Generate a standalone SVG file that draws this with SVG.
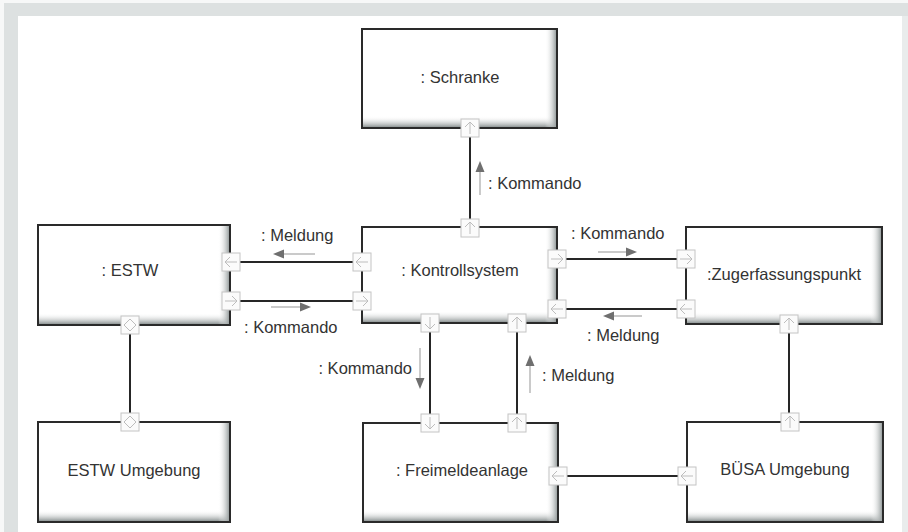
<svg xmlns="http://www.w3.org/2000/svg" xmlns:xlink="http://www.w3.org/1999/xlink" width="908" height="532" viewBox="0 0 908 532">
<style>
.box{fill:#fff;stroke:#2a2a2a;stroke-width:2}
.lbl{font-family:"Liberation Sans",Arial,sans-serif;font-size:16.5px;fill:#333}
.ctr{text-anchor:middle}
.port{fill:#fbfbfb;stroke:#c4c4c4;stroke-width:1}
.glyph{fill:none;stroke:#bdbdbd;stroke-width:1}
.con{stroke:#262626;stroke-width:2;fill:none}
.flow{stroke:#b8b8b8;stroke-width:1.5;fill:none}
.head{fill:#6f6f6f}
</style>
<defs>
<linearGradient id="gb" x1="0" y1="0" x2="0" y2="1">
<stop offset="0" stop-color="#fff" stop-opacity="0"/>
<stop offset="1" stop-color="#8f9696"/>
</linearGradient>
<linearGradient id="gr" x1="0" y1="0" x2="1" y2="0">
<stop offset="0" stop-color="#fff" stop-opacity="0"/>
<stop offset="1" stop-color="#9aa1a1"/>
</linearGradient>
<g id="pR"><rect class="port" x="-9" y="-9" width="18" height="18"/><path class="glyph" d="M-6 0H6M1-5L6 0L1 5"/></g>
<g id="pL"><rect class="port" x="-9" y="-9" width="18" height="18"/><path class="glyph" d="M6 0H-6M-1-5L-6 0L-1 5"/></g>
<g id="pU"><rect class="port" x="-9" y="-9" width="18" height="18"/><path class="glyph" d="M0 6V-6M-5-1L0-6L5-1"/></g>
<g id="pD"><rect class="port" x="-9" y="-9" width="18" height="18"/><path class="glyph" d="M0-6V6M-5 1L0 6L5 1"/></g>
<g id="pX"><rect class="port" x="-9" y="-9" width="18" height="18"/><path class="glyph" d="M0-6L6 0L0 6L-6 0Z"/></g>
</defs>
<rect x="0" y="0" width="908" height="532" fill="#f7f8f8"/>
<rect x="4" y="3" width="904" height="13" fill="#dde1e1"/>
<rect x="4" y="3" width="14" height="529" fill="#dde1e1"/>
<rect x="18" y="16" width="884" height="516" fill="#fff"/>
<rect x="902" y="16" width="6" height="516" fill="#e9ecec"/>

<g id="connectors">
<path class="con" d="M470 137V219"/>
<path class="con" d="M240 262H353"/>
<path class="con" d="M240 301H353"/>
<path class="con" d="M566 259H677"/>
<path class="con" d="M566 309H677"/>
<path class="con" d="M430 332V414"/>
<path class="con" d="M517 332V414"/>
<path class="con" d="M130 334V413"/>
<path class="con" d="M789 333V413"/>
<path class="con" d="M567 476H678"/>
<path class="flow" d="M480 195V170"/><path class="head" d="M475.5 172L480 161L484.5 172Z"/>
<text class="lbl" x="488" y="189">: Kommando</text>
<path class="flow" d="M315 254H282"/><path class="head" d="M284 249.5L273 254L284 258.5Z"/>
<text class="lbl" x="261" y="241">: Meldung</text>
<path class="flow" d="M271 307H302"/><path class="head" d="M300 302.5L311 307L300 311.5Z"/>
<text class="lbl" x="244" y="333">: Kommando</text>
<path class="flow" d="M598 252H628"/><path class="head" d="M626 247.5L637 252L626 256.5Z"/>
<text class="lbl" x="571" y="239">: Kommando</text>
<path class="flow" d="M642 316H612"/><path class="head" d="M614 311.5L603 316L614 320.5Z"/>
<text class="lbl" x="587" y="341">: Meldung</text>
<path class="flow" d="M420 348V380"/><path class="head" d="M415.5 378L420 389L424.5 378Z"/>
<text class="lbl" x="412" y="374" text-anchor="end">: Kommando</text>
<path class="flow" d="M530 393V364"/><path class="head" d="M525.5 366L530 355L534.5 366Z"/>
<text class="lbl" x="542" y="381">: Meldung</text>
</g>

<g id="schranke">
<rect class="box" x="362" y="29" width="195" height="99"/>
<rect x="363" y="116" width="193" height="11" fill="url(#gb)"/>
<rect x="545" y="30" width="11" height="97" fill="url(#gr)"/>
<text class="lbl ctr" x="460" y="83">: Schranke</text>
<use xlink:href="#pU" x="470" y="128"/>
</g>

<g id="kontrollsystem">
<rect class="box" x="362" y="227" width="195" height="96"/>
<rect x="363" y="311" width="193" height="11" fill="url(#gb)"/>
<rect x="545" y="228" width="11" height="94" fill="url(#gr)"/>
<text class="lbl ctr" x="460" y="276">: Kontrollsystem</text>
<use xlink:href="#pU" x="470" y="228"/>
<use xlink:href="#pL" x="362" y="262"/>
<use xlink:href="#pR" x="362" y="301"/>
<use xlink:href="#pR" x="557" y="259"/>
<use xlink:href="#pL" x="557" y="309"/>
<use xlink:href="#pD" x="430" y="323"/>
<use xlink:href="#pU" x="517" y="323"/>
</g>

<g id="estw">
<rect class="box" x="38" y="225" width="192" height="100"/>
<rect x="39" y="313" width="190" height="11" fill="url(#gb)"/>
<rect x="218" y="226" width="11" height="98" fill="url(#gr)"/>
<text class="lbl ctr" x="130" y="276">: ESTW</text>
<use xlink:href="#pL" x="231" y="262"/>
<use xlink:href="#pR" x="231" y="301"/>
<use xlink:href="#pX" x="130" y="325"/>
</g>

<g id="zugerfassungspunkt">
<rect class="box" x="686" y="227" width="196" height="97"/>
<rect x="687" y="312" width="194" height="11" fill="url(#gb)"/>
<rect x="870" y="228" width="11" height="95" fill="url(#gr)"/>
<text class="lbl ctr" x="784" y="280">:Zugerfassungspunkt</text>
<use xlink:href="#pR" x="686" y="259"/>
<use xlink:href="#pL" x="686" y="309"/>
<use xlink:href="#pU" x="789" y="324"/>
</g>

<g id="freimeldeanlage">
<rect class="box" x="363" y="423" width="195" height="99"/>
<rect x="364" y="510" width="193" height="11" fill="url(#gb)"/>
<rect x="546" y="424" width="11" height="97" fill="url(#gr)"/>
<text class="lbl ctr" x="462" y="476">: Freimeldeanlage</text>
<use xlink:href="#pD" x="430" y="423"/>
<use xlink:href="#pU" x="517" y="423"/>
<use xlink:href="#pL" x="558" y="476"/>
</g>

<g id="estw-umgebung">
<rect class="box" x="38" y="422" width="192" height="100"/>
<rect x="39" y="510" width="190" height="11" fill="url(#gb)"/>
<rect x="218" y="423" width="11" height="98" fill="url(#gr)"/>
<text class="lbl ctr" x="134" y="476">ESTW Umgebung</text>
<use xlink:href="#pX" x="130" y="422"/>
</g>

<g id="buesa-umgebung">
<rect class="box" x="687" y="422" width="196" height="100"/>
<rect x="688" y="510" width="194" height="11" fill="url(#gb)"/>
<rect x="871" y="423" width="11" height="98" fill="url(#gr)"/>
<text class="lbl ctr" x="785" y="475">BÜSA Umgebung</text>
<use xlink:href="#pU" x="790" y="422"/>
<use xlink:href="#pL" x="687" y="476"/>
</g>
</svg>
